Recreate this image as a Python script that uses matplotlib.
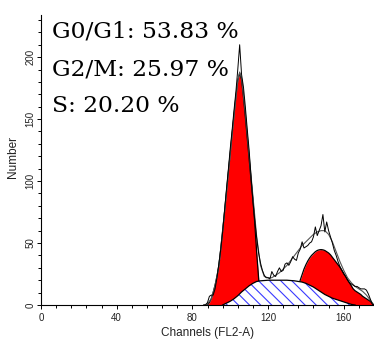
import numpy as np
import matplotlib.pyplot as plt
from matplotlib.ticker import MultipleLocator

# raw histogram (counts per channel)
ch = np.arange(86, 177)
raw = [0, 0, 2, 7, 8, 8, 13, 22, 33, 45, 59, 76, 93, 109, 126, 141, 157, 172, 190, 210,
       186, 176, 160, 142, 125, 104, 84, 68, 54, 42, 34, 28, 24, 22, 22, 21, 27, 24, 23, 27,
       30, 27, 28, 33, 34, 32, 35, 39, 37, 36, 42, 45, 51, 46, 47, 48, 50, 51, 55, 63,
       56, 60, 64, 73, 59, 67, 60, 55, 50, 44, 40, 35, 31, 28, 25, 23, 20, 18, 17, 16,
       15, 15, 14, 13, 13, 13, 12, 9, 5, 1, 0]

# fitted total
fit_x = [86, 88, 90, 92, 94, 96, 98, 100, 102, 104, 105, 106, 108, 110, 112, 114, 116, 118,
         120, 122, 124, 126, 128, 130, 132, 134, 136, 138, 140, 142, 144, 146, 148, 150,
         152, 154, 156, 158, 160, 162, 164, 166, 168, 170, 172, 174, 176]
fit_y = [0, 1, 5, 16, 31, 60, 90, 122, 153, 181, 188, 183, 155, 121, 88, 55, 32, 23,
         22, 22, 24, 26, 29, 32, 36, 40, 44, 48, 51, 54, 57, 59, 60, 60,
         57, 51, 43, 35, 28, 22, 18, 15, 13, 11, 8, 4, 0]

# G0/G1 peak
g1_x = np.arange(88, 117)
g1_y = [0, 2, 5, 10, 16, 23, 32, 45, 60, 75, 91, 107, 122, 138, 153, 168, 181, 187,
        182, 168, 152, 135, 118, 101, 85, 66, 42, 22, 0]

# G2/M peak
g2_x = [136, 136.5, 137, 138, 139, 140, 141, 142, 143, 144, 145, 146, 147, 148, 149, 150,
        151, 152, 153, 154, 155, 156, 157, 158, 159, 160, 161, 162, 163, 164, 165, 166,
        167, 168, 169, 170, 171, 172, 173, 174, 175, 175.5]
g2_y = [0, 17, 20, 24.5, 29, 32.5, 35.5, 38, 40, 41.5, 43, 44, 44.5, 44.7, 44.5, 44,
        43, 42, 40.5, 38.5, 36.5, 34.5, 32.5, 30.5, 28, 25.5, 23, 20.5, 18, 15.5, 13, 11.5,
        10.5, 9.5, 8.5, 7, 6, 5, 4, 3, 1.5, 0]

# S phase
s_x = [96, 98, 100, 102, 104, 106, 108, 110, 112, 114, 116, 120, 125, 130, 134, 136, 138,
       140, 142, 144, 146, 148, 150, 152, 154, 156, 158, 160, 162, 164, 166]
s_y = [0, 1.5, 3, 5, 7.5, 10.5, 13, 15.5, 17.5, 19, 19.5, 20, 20, 20, 19.5, 19, 18.5,
       17.5, 16, 14.5, 12.5, 10.5, 8.5, 7, 5.5, 4.5, 3.5, 2.5, 1.5, 0.5, 0]

labels = ["G0/G1: 53.83 %", "G2/M: 25.97 %", "S: 20.20 %"]

plt.rcParams['hatch.color'] = '#3a3aff'
plt.rcParams['hatch.linewidth'] = 0.8

fig = plt.figure(figsize=(3.74, 3.45), dpi=100)
ax = fig.add_axes([41/374, 40/345, 333/374, 290/345])

ax.fill_between(g1_x, 0, g1_y, color='#ff0000', lw=0, zorder=1)
ax.plot(g1_x, g1_y, color='black', lw=0.9, zorder=1.5)
ax.fill_between(g2_x, 0, g2_y, color='#ff0000', lw=0, zorder=1)
ax.plot(g2_x, g2_y, color='black', lw=0.9, zorder=1.5)
ax.fill_between(s_x, 0, s_y, facecolor='white', edgecolor='#3a3aff', hatch='\\\\\\',
                lw=0, zorder=2)
ax.plot(s_x, s_y, color='black', lw=0.9, zorder=2.5)
ax.plot(fit_x, fit_y, color='#555555', lw=0.8, zorder=3)
ax.plot(ch, raw, color='black', lw=0.7, zorder=3.5)

ax.set_xlim(0, 176)
ax.set_ylim(0, 234)
ax.spines['top'].set_visible(False)
ax.spines['right'].set_visible(False)
for sp in ['left', 'bottom']:
    ax.spines[sp].set_linewidth(0.8)

ax.xaxis.set_major_locator(MultipleLocator(40))
ax.xaxis.set_minor_locator(MultipleLocator(8))
ax.yaxis.set_major_locator(MultipleLocator(50))
ax.yaxis.set_minor_locator(MultipleLocator(10))
ax.tick_params(axis='both', which='major', length=3, width=0.7, labelsize=7,
               labelcolor='#222222')
ax.tick_params(axis='both', which='minor', length=2.2, width=0.7)
ax.tick_params(axis='x', pad=3)
ax.tick_params(axis='y', pad=1, labelrotation=90)
for t in ax.get_yticklabels():
    t.set_va('center')
for t in ax.get_xticklabels() + ax.get_yticklabels():
    t.set_family('Liberation Sans')

ax.set_xlabel("Channels (FL2-A)", fontsize=8.5, family='Liberation Sans', color='#222222')
ax.set_ylabel("Number", fontsize=8.5, family='Liberation Sans', color='#222222')
ax.xaxis.set_label_coords(0.5, -0.075)
ax.yaxis.set_label_coords(-0.066, 0.51)

for i, s in enumerate(labels):
    fig.text(52/374, 1 - (38 + 37*i)/345, s, fontsize=16.8, family='DejaVu Serif',
             va='baseline', ha='left')

fig.savefig('out.png', dpi=100)
